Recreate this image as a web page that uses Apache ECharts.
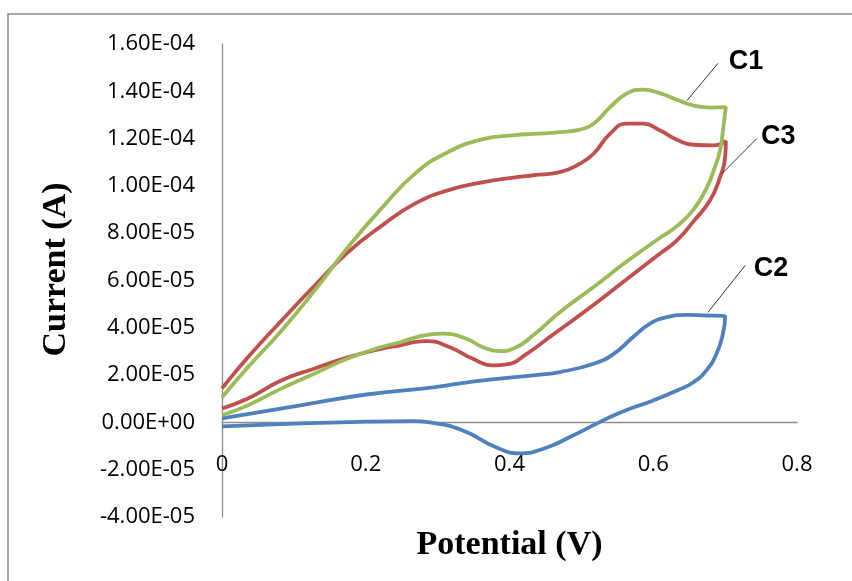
<!DOCTYPE html>
<html>
<head>
<meta charset="utf-8">
<script src="https://cdn.jsdelivr.net/npm/echarts@6/dist/echarts.min.js"></script>
<style>
html, body { margin: 0; padding: 0; background: #fff; }
#chart { width: 852px; height: 581px; }
</style>
</head>
<body>
<div id="chart"></div>
<script>
// Axis ticks
const xTicks = [0, 0.2, 0.4, 0.6, 0.8];
const yTicks = [-4e-5, -2e-5, 0, 2e-5, 4e-5, 6e-5, 8e-5, 1e-4, 1.2e-4, 1.4e-4, 1.6e-4];

// C2 (blue) – potential (V) and current (A)
const c2Potential = [0, 0.109, 0.201, 0.294, 0.354, 0.433, 0.470, 0.517, 0.545, 0.572, 0.595, 0.619, 0.647, 0.674, 0.700,
  0.697, 0.688, 0.674, 0.656, 0.633, 0.600, 0.556, 0.522, 0.484, 0.452, 0.415, 0.382, 0.335, 0.289, 0.266, 0.200, 0.109, 0];
const c2Current = [1.7e-6, 7.2e-6, 1.18e-5, 1.48e-5, 1.75e-5, 1.99e-5, 2.13e-5, 2.48e-5, 2.9e-5, 3.61e-5, 4.17e-5, 4.45e-5, 4.55e-5, 4.52e-5, 4.48e-5,
  3.75e-5, 2.9e-5, 2.2e-5, 1.7e-5, 1.35e-5, 9.3e-6, 4.4e-6, -4e-7, -6.2e-6, -1.06e-5, -1.31e-5, -1.06e-5, -3.4e-6, 0, 5e-7, 3e-7, -4e-7, -1.7e-6];

// C3 (red)
const c3Potential = [0, 0.036, 0.083, 0.129, 0.175, 0.223, 0.248, 0.269, 0.285, 0.317, 0.349, 0.377, 0.396, 0.424, 0.456, 0.507, 0.563, 0.609, 0.633, 0.656, 0.679, 0.693, 0.700, 0.701,
  0.684, 0.656, 0.633, 0.609, 0.586, 0.563, 0.540, 0.517, 0.498, 0.470, 0.433, 0.408, 0.362, 0.314, 0.269, 0.223, 0.175, 0.129, 0.083, 0.036, 0];
const c3Current = [5.9e-6, 1.01e-5, 1.78e-5, 2.28e-5, 2.75e-5, 3.12e-5, 3.26e-5, 3.4e-5, 3.44e-5, 3.18e-5, 2.69e-5, 2.41e-5, 2.45e-5, 2.9e-5, 3.61e-5, 4.74e-5, 6.05e-5, 7.13e-5, 7.7e-5, 8.5e-5, 9.39e-5, 1.037e-4, 1.12e-4, 1.19e-4,
  1.171e-4, 1.174e-4, 1.195e-4, 1.235e-4, 1.263e-4, 1.263e-4, 1.221e-4, 1.136e-4, 1.094e-4, 1.058e-4, 1.045e-4, 1.036e-4, 1.015e-4, 9.81e-5, 9.26e-5, 8.33e-5, 7.19e-5, 5.79e-5, 4.31e-5, 2.75e-5, 1.44e-5];

// C1 (green)
const c1Potential = [0, 0.036, 0.083, 0.129, 0.175, 0.223, 0.248, 0.275, 0.307, 0.340, 0.363, 0.387, 0.405, 0.433, 0.470, 0.516, 0.563, 0.609, 0.633, 0.656, 0.674, 0.684, 0.693, 0.697, 0.701,
  0.679, 0.656, 0.633, 0.609, 0.586, 0.563, 0.540, 0.517, 0.498, 0.470, 0.433, 0.408, 0.362, 0.314, 0.269, 0.223, 0.175, 0.129, 0.083, 0.036, 0];
const c1Current = [3.0e-6, 7.2e-6, 1.44e-5, 2.07e-5, 2.7e-5, 3.2e-5, 3.39e-5, 3.64e-5, 3.75e-5, 3.54e-5, 3.18e-5, 3.01e-5, 3.11e-5, 3.68e-5, 4.66e-5, 5.7e-5, 6.8e-5, 7.8e-5, 8.3e-5, 9.0e-5, 9.9e-5, 1.065e-4, 1.15e-4, 1.235e-4, 1.333e-4,
  1.331e-4, 1.34e-4, 1.364e-4, 1.392e-4, 1.407e-4, 1.39e-4, 1.333e-4, 1.263e-4, 1.238e-4, 1.227e-4, 1.22e-4, 1.215e-4, 1.197e-4, 1.142e-4, 1.053e-4, 9.09e-5, 7.40e-5, 5.58e-5, 3.89e-5, 2.33e-5, 1.06e-5];

// Callout labels: [leader start, leader end, text position] in data coords
const c1Callout = [[0.647, 1.361e-4], [0.690, 1.518e-4], [0.729, 1.526e-4]];
const c3Callout = [[0.696, 1.053e-4], [0.744, 1.20e-4], [0.774, 1.209e-4]];
const c2Callout = [[0.676, 4.65e-5], [0.728, 6.64e-5], [0.764, 6.51e-5]];

function pairs(xs, ys) { return xs.map((x, i) => [x, ys[i]]); }

function sciLabel(v) {
  if (Math.abs(v) < 1e-12) return '0.00E+00';
  const s = v.toExponential(2);
  const parts = s.split('e');
  const sign = parts[1][0];
  const exp = parts[1].slice(1).padStart(2, '0');
  return parts[0] + 'E' + sign + exp;
}

const tickFont = { fontFamily: '"Open Sans", Lato, sans-serif', fontSize: 22, color: '#000' };
const calloutFont = { fontFamily: '"Liberation Sans", Arial, sans-serif', fontSize: 27, fontWeight: 'bold', color: '#000' };
const titleFont = { fontFamily: '"Liberation Serif", "Times New Roman", serif', fontSize: 34, fontWeight: 'bold', color: '#000' };

function makeSeries(name, color, xs, ys, callout) {
  return {
    name: name,
    type: 'line',
    data: pairs(xs, ys),
    smooth: 0.5,
    showSymbol: false,
    symbol: 'none',
    lineStyle: { color: color, width: 3.8 },
    itemStyle: { color: color },
    markLine: {
      silent: true,
      symbol: ['none', 'none'],
      label: { show: false },
      lineStyle: { color: '#000', width: 0.8, type: 'solid' },
      data: [[{ coord: callout[0] }, { coord: callout[1] }]]
    },
    markPoint: {
      silent: true,
      symbol: 'circle',
      symbolSize: 0,
      data: [{ coord: callout[2], value: name }],
      label: Object.assign({ show: true, position: 'inside', formatter: name }, calloutFont)
    }
  };
}

const chart = echarts.init(document.getElementById('chart'), null, { renderer: 'canvas' });
chart.setOption({
  animation: false,
  backgroundColor: '#fff',
  grid: { left: 222, right: 55, top: 44, bottom: 64, containLabel: false, outerBoundsMode: 'none' },
  xAxis: {
    type: 'value',
    min: xTicks[0],
    max: xTicks[xTicks.length - 1],
    interval: 0.2,
    name: 'Potential (V)',
    nameLocation: 'middle',
    nameGap: 11,
    nameTextStyle: titleFont,
    axisLine: { onZero: true, lineStyle: { color: '#8c8c8c', width: 1.3 } },
    axisTick: { show: false },
    splitLine: { show: false },
    axisLabel: Object.assign({ margin: -63, formatter: v => (v === 0 ? '0' : v.toFixed(1)) }, tickFont)
  },
  yAxis: {
    type: 'value',
    min: yTicks[0],
    max: yTicks[yTicks.length - 1],
    interval: 2e-5,
    name: 'Current (A)',
    nameLocation: 'middle',
    nameGap: 149,
    nameTextStyle: Object.assign({ padding: [0, 0, 0, 22] }, titleFont),
    axisLine: { show: true, onZero: false, lineStyle: { color: '#8c8c8c', width: 1.3 } },
    axisTick: { show: false },
    splitLine: { show: false },
    axisLabel: Object.assign({ margin: 27, formatter: sciLabel }, tickFont)
  },
  graphic: [{
    type: 'rect',
    silent: true,
    shape: { x: 8, y: 14, width: 900, height: 700 },
    style: { fill: 'none', stroke: '#8a8a8a', lineWidth: 1.5 },
    z: -10
  }],
  series: [
    makeSeries('C2', '#4F81BD', c2Potential, c2Current, c2Callout),
    makeSeries('C3', '#C0504D', c3Potential, c3Current, c3Callout),
    makeSeries('C1', '#9BBB59', c1Potential, c1Current, c1Callout)
  ]
});
</script>
</body>
</html>
